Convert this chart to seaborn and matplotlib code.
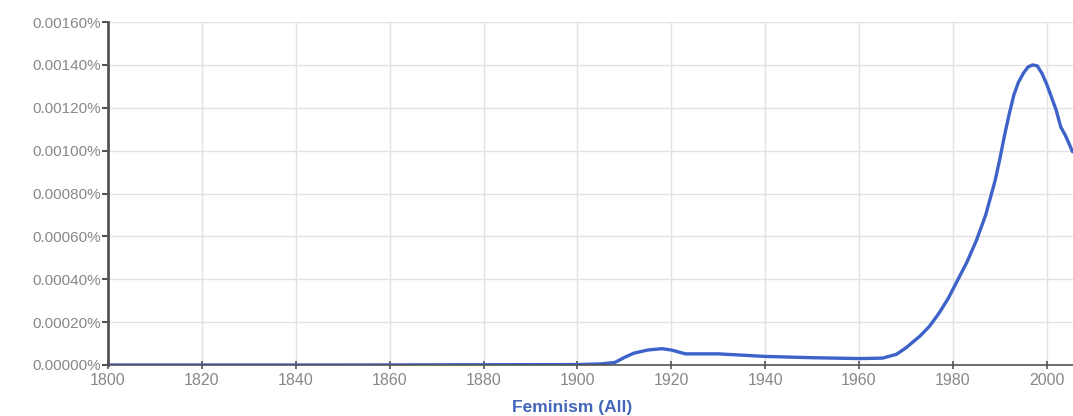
import matplotlib
matplotlib.use("Agg")
import matplotlib.pyplot as plt
import seaborn as sns
import pandas as pd
from matplotlib.ticker import FuncFormatter

years = [1800, 1850, 1900, 1905, 1908, 1910, 1912, 1915, 1918, 1920, 1923, 1930,
         1940, 1950, 1960, 1965, 1968, 1970, 1973, 1975, 1977, 1979, 1981, 1983,
         1985, 1987, 1989, 1990, 1991, 1992, 1993, 1994, 1995, 1996, 1997, 1998,
         1999, 2000, 2001, 2002, 2003, 2004, 2005.5]
values = [0.0, 0.0, 0.000002, 0.000005, 0.000012, 0.000035, 0.000055, 0.00007,
          0.000076, 0.00007, 0.000052, 0.000052, 0.00004, 0.000034, 0.00003,
          0.000032, 0.00005, 0.00008, 0.000135, 0.00018, 0.00024, 0.00031,
          0.000395, 0.00048, 0.00058, 0.0007, 0.00086, 0.00096, 0.00107, 0.00117,
          0.00126, 0.00132, 0.00136, 0.00139, 0.0014, 0.001395, 0.00136, 0.00131,
          0.00125, 0.00119, 0.00111, 0.00107, 0.000995]
x_ticks = list(range(1800, 2001, 20))
y_ticks = [0.0, 0.0002, 0.0004, 0.0006, 0.0008, 0.001, 0.0012, 0.0014, 0.0016]
series_label = "Feminism (All)"

sns.set_style("white")
plt.rcParams['font.family'] = ['Liberation Sans', 'DejaVu Sans']

fig = plt.figure(figsize=(10.73, 4.16), dpi=100)
ax = fig.add_axes([0.1007, 0.1226, 0.8993, 0.8245])

df = pd.DataFrame({"year": years, "value": values})
sns.lineplot(data=df, x="year", y="value", ax=ax, color="#3d63c8", linewidth=2.4)

ax.set_xlim(1800, 2005.6)
ax.set_ylim(0, 0.0016)
ax.set_xticks(x_ticks)
ax.set_yticks(y_ticks)
ax.yaxis.set_major_formatter(FuncFormatter(lambda v, p: f"{v:.5f}%"))
ax.grid(True, color="#e2e2e2", linewidth=1)
ax.set_axisbelow(True)
for s in ["top", "right"]:
    ax.spines[s].set_visible(False)
ax.spines["left"].set_color("#555555")
ax.spines["left"].set_linewidth(2.0)
ax.spines["bottom"].set_color("#555555")
ax.spines["bottom"].set_linewidth(1.2)
ax.tick_params(axis="y", direction="out", length=4, width=1.5, color="#555555",
               labelsize=11, labelcolor="#888888", pad=1, left=True)
ax.tick_params(axis="x", direction="inout", length=6, width=1.2, color="#555555",
               labelsize=11.5, labelcolor="#888888", pad=3, bottom=True)
ax.set_xlabel("")
ax.set_ylabel("")
fig.text(0.533, 0.003, series_label, color="#4466bb", fontsize=12.5,
         fontweight="bold", ha="center", va="bottom")

fig.savefig("out.png", dpi=100)
